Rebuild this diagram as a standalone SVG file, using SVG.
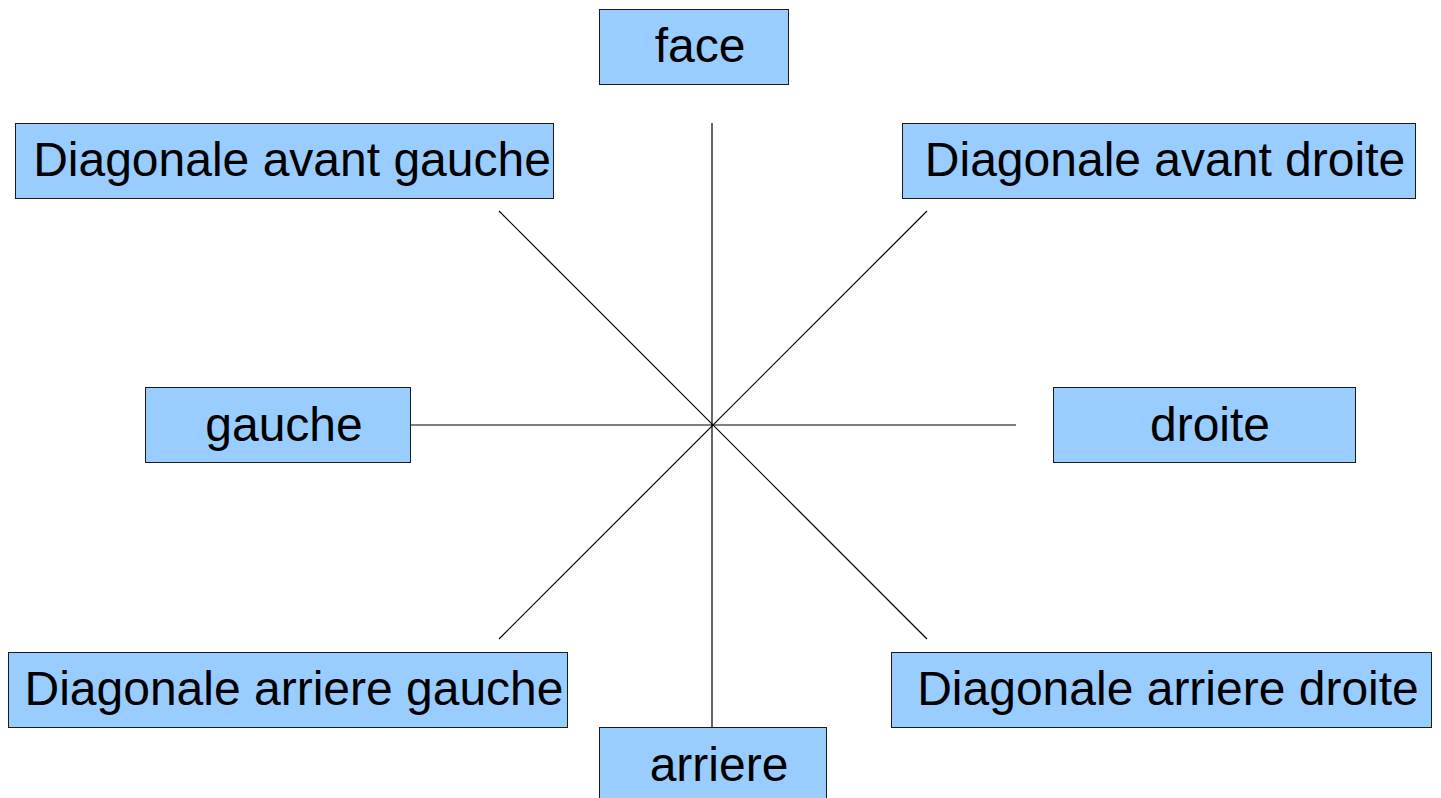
<svg xmlns="http://www.w3.org/2000/svg" width="1441" height="798" viewBox="0 0 1441 798">
<style>
.box{fill:#99ccff;stroke:#1a1a1a;stroke-width:1}
.lbl{font-family:"Liberation Sans",Arial,sans-serif;font-size:48px;fill:#000;text-anchor:middle}
.conn line{stroke:#000;stroke-width:1.2}
</style>
<rect width="1441" height="798" fill="#fff"/>
<g id="connectors" class="conn">
<line x1="712" y1="123" x2="712" y2="727"/>
<line x1="410" y1="425" x2="1016" y2="425"/>
<line x1="499" y1="211" x2="927" y2="639"/>
<line x1="927" y1="211" x2="499" y2="639"/>
</g>
<g id="face"><rect class="box" x="599.5" y="9.5" width="189" height="75"/><text class="lbl" x="700" y="62">face</text></g>
<g id="diag-avant-gauche"><rect class="box" x="15.5" y="123.5" width="538" height="75"/><text class="lbl" x="292" y="176">Diagonale avant gauche</text></g>
<g id="diag-avant-droite"><rect class="box" x="902.5" y="123.5" width="513" height="75"/><text class="lbl" x="1165" y="176">Diagonale avant droite</text></g>
<g id="gauche"><rect class="box" x="145.5" y="387.5" width="265" height="75"/><text class="lbl" x="284" y="441">gauche</text></g>
<g id="droite"><rect class="box" x="1053.5" y="387.5" width="302" height="75"/><text class="lbl" x="1210" y="441">droite</text></g>
<g id="diag-arriere-gauche"><rect class="box" x="8.5" y="652.5" width="559" height="75"/><text class="lbl" x="294" y="705">Diagonale arriere gauche</text></g>
<g id="diag-arriere-droite"><rect class="box" x="891.5" y="652.5" width="540" height="75"/><text class="lbl" x="1168" y="705">Diagonale arriere droite</text></g>
<g id="arriere"><rect class="box" x="599.5" y="727.5" width="227" height="75"/><text class="lbl" x="719" y="781">arriere</text></g>
</svg>
